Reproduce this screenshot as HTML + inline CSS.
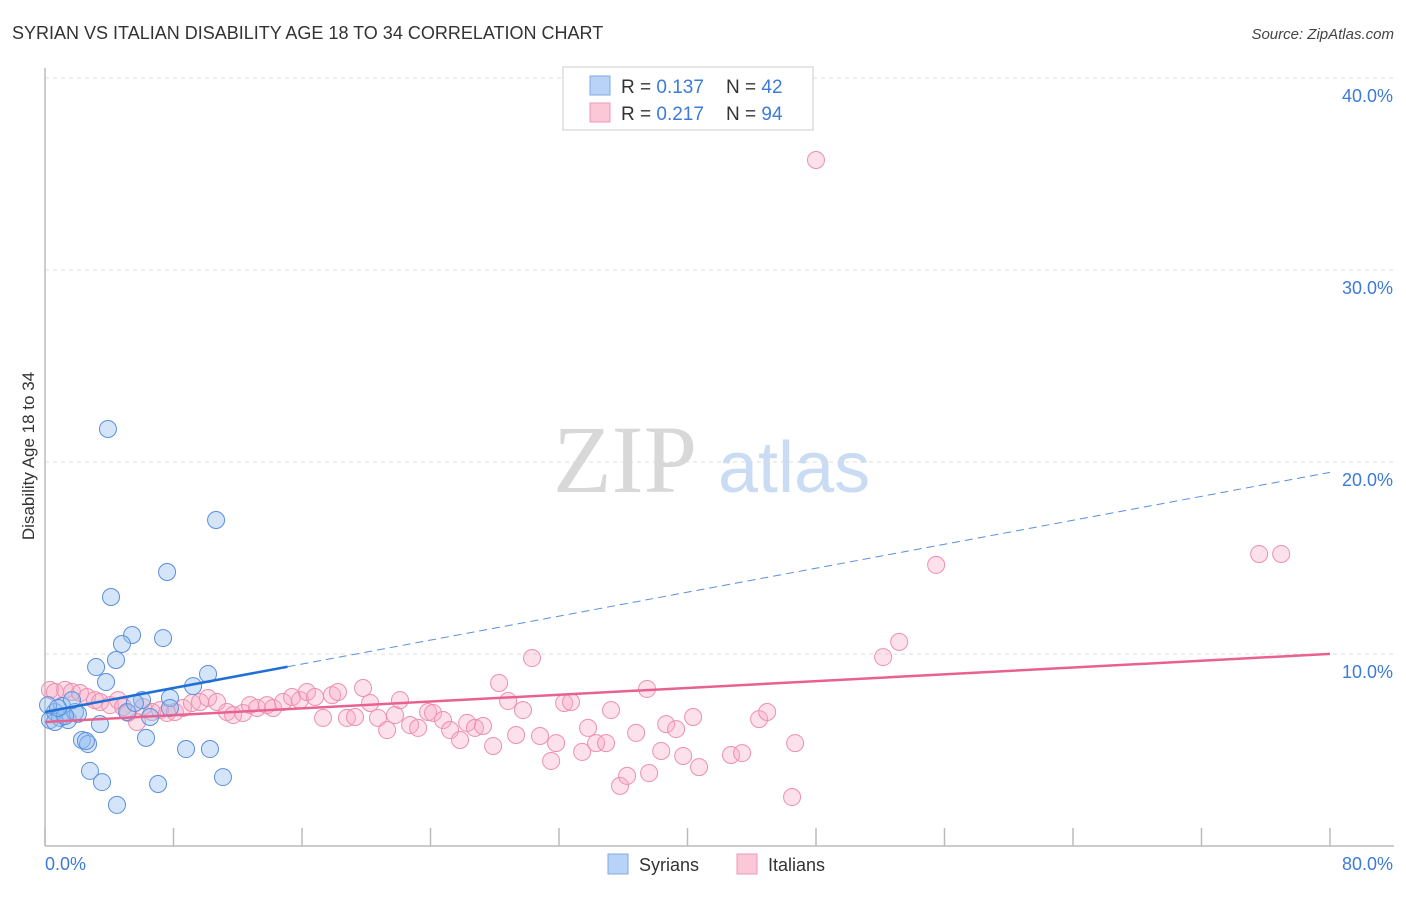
<!DOCTYPE html>
<html><head><meta charset="utf-8"><style>
body{margin:0;background:#fff;font-family:"Liberation Sans",sans-serif;}
svg text{font-family:"Liberation Sans",sans-serif;}
</style></head><body>
<svg id="chart" width="1406" height="892" viewBox="0 0 1406 892" xmlns="http://www.w3.org/2000/svg">
<text x="12" y="39" font-size="18" fill="#333">SYRIAN VS ITALIAN DISABILITY AGE 18 TO 34 CORRELATION CHART</text>
<text x="1394" y="39" font-size="15" fill="#444" font-style="italic" text-anchor="end">Source: ZipAtlas.com</text>
<g>
<text x="553" y="492" font-size="96" fill="#d8d8d8" font-family="Liberation Serif" style="font-family:'Liberation Serif',serif">ZIP</text>
<text x="718" y="492" font-size="72" fill="#c9dcf3">atlas</text>
</g>
<g id="grid"></g>
<line x1="45" y1="68" x2="45" y2="846" stroke="#bbb" stroke-width="1.5"/>
<line x1="45" y1="846" x2="1394" y2="846" stroke="#bbb" stroke-width="1.5"/>
<g id="ticks"></g>
<text transform="translate(34,456) rotate(-90)" font-size="17" fill="#333" text-anchor="middle">Disability Age 18 to 34</text>
<text x="45" y="870" font-size="18" fill="#3d7bd8">0.0%</text>
<text x="1393" y="870" font-size="18" fill="#3d7bd8" text-anchor="end">80.0%</text>
<g id="pink"></g>
<g id="blue"></g>
<g id="trends"></g>
<g>
<rect x="563" y="67" width="250" height="63" fill="#fff" stroke="#ccc"/>
<rect x="590" y="76" width="20" height="19" fill="#b8d3f5" stroke="#7fa9e3"/>
<rect x="590" y="103" width="20" height="19" fill="#fbc8d8" stroke="#ee9ab5"/>
<text x="621" y="93" font-size="19" fill="#333">R = <tspan fill="#3d7bd8">0.137</tspan></text>
<text x="726" y="93" font-size="19" fill="#333">N = <tspan fill="#3d7bd8">42</tspan></text>
<text x="621" y="120" font-size="19" fill="#333">R = <tspan fill="#3d7bd8">0.217</tspan></text>
<text x="726" y="120" font-size="19" fill="#333">N = <tspan fill="#3d7bd8">94</tspan></text>
</g>
<g>
<rect x="608" y="854" width="20" height="20" fill="#b8d3f5" stroke="#7fa9e3"/>
<text x="639" y="871" font-size="18" fill="#333">Syrians</text>
<rect x="737" y="854" width="20" height="20" fill="#fbc8d8" stroke="#ee9ab5"/>
<text x="768" y="871" font-size="18" fill="#333">Italians</text>
</g>
</svg>
<script>
const yTicks=[10,20,30,40];
const yTickLabels=["10.0%","20.0%","30.0%","40.0%"];
const xTicks=[0,8,16,24,32,40,48,56,64,72,80];
const syrX=[3.92,10.65,7.60,4.11,5.42,4.79,7.35,3.18,4.42,10.15,3.80,9.22,6.04,7.78,3.42,2.30,2.68,2.55,6.29,8.78,10.27,2.80,3.55,7.04,4.48,11.08,0.31,0.62,0.93,1.43,1.87,1.06,0.19,0.62,2.05,5.11,6.54,7.78,5.60,1.68,1.25,0.81];
const syrY=[21.72,16.98,14.27,12.97,10.99,10.52,10.83,9.32,9.69,8.96,8.54,8.33,7.60,7.71,6.35,5.52,5.31,5.47,5.63,5.05,5.05,3.91,3.33,3.23,2.14,3.59,6.56,6.98,6.67,6.56,6.98,7.29,7.34,6.46,6.88,6.98,6.72,7.19,7.45,7.60,6.77,7.19];
const itaX=[0.31,0.62,1.25,1.68,2.18,2.62,3.11,3.42,4.05,4.55,4.86,5.17,5.73,6.10,6.66,7.16,7.60,8.09,8.59,9.15,9.65,10.15,10.71,11.33,11.71,12.33,12.76,13.20,13.82,14.20,14.82,15.38,15.88,16.31,16.81,17.31,17.87,18.24,18.80,19.30,19.80,20.24,20.73,21.30,21.79,22.1,22.73,23.23,23.85,24.16,24.78,25.22,25.84,26.28,26.77,27.27,27.9,28.27,28.83,29.33,29.76,30.32,30.82,31.51,31.82,32.32,32.75,33.44,33.81,34.31,34.93,35.24,35.80,36.24,36.80,37.48,37.61,38.36,38.67,39.29,39.73,40.35,40.72,42.71,43.40,44.46,44.96,46.70,46.51,48.0,52.18,53.18,55.48,75.59,76.96];
const itaY=[8.13,8.02,8.13,8.02,7.97,7.76,7.60,7.50,7.34,7.60,7.24,6.93,6.46,7.24,6.98,7.08,6.93,6.98,7.19,7.45,7.50,7.71,7.50,6.98,6.82,6.93,7.34,7.19,7.34,7.19,7.50,7.76,7.60,8.02,7.76,6.67,7.86,8.02,6.67,6.72,8.23,7.45,6.67,6.04,6.82,7.6,6.3,6.15,6.98,6.93,6.56,6.04,5.52,6.41,6.15,6.25,5.21,8.49,7.55,5.78,7.08,9.79,5.73,4.43,5.36,7.45,7.50,4.90,6.15,5.36,5.36,7.08,3.13,3.65,5.89,8.18,3.80,4.95,6.35,6.09,4.69,6.72,4.11,4.74,4.84,6.61,6.98,5.36,2.55,35.73,9.84,10.63,14.64,15.21,15.21];
const syrTrend=[6.98,0.156];
const itaTrend=[6.46,0.0443];
const syrSolidEnd=15.1;

const NS="http://www.w3.org/2000/svg";
const sx=v=>45+v*(1285/80);
const sy=v=>846-v*19.2;
function mk(tag,attrs,parent){const e=document.createElementNS(NS,tag);for(const k in attrs)e.setAttribute(k,attrs[k]);parent.appendChild(e);return e;}
const grid=document.getElementById('grid');
yTicks.forEach((t,i)=>{
  const l=mk('line',{x1:45,x2:1394,y1:sy(t),y2:sy(t),stroke:'#ddd','stroke-dasharray':'4,4'},grid);
  
  
  const tx=mk('text',{x:1393,y:sy(t)+24,'font-size':18,fill:'#3d7bd8','text-anchor':'end'},grid);
  tx.textContent=yTickLabels[i];
  
  
});
const ticks=document.getElementById('ticks');
xTicks.forEach(t=>{
  const l=mk('line',{x1:sx(t),x2:sx(t),y1:828,y2:846,stroke:'#bbb','stroke-width':1.5},ticks);
  
  
});
const pg=document.getElementById('pink');
itaX.forEach((x,i)=>{
  const c=mk('circle',{cx:sx(x),cy:sy(itaY[i]),r:8.5,fill:'rgba(248,170,195,0.35)',stroke:'#ec8fb0','stroke-width':1},pg);
  
  
});
const bg=document.getElementById('blue');
syrX.forEach((x,i)=>{
  const c=mk('circle',{cx:sx(x),cy:sy(syrY[i]),r:8.5,fill:'rgba(150,190,240,0.4)',stroke:'#5a8fdc','stroke-width':1},bg);
  
  
});
const tg=document.getElementById('trends');
const f=(tr,x)=>tr[0]+tr[1]*x;
let l1=mk('line',{x1:sx(0),y1:sy(f(itaTrend,0)),x2:sx(80),y2:sy(f(itaTrend,80)),stroke:'#e8628f','stroke-width':2.5},tg);


let l2=mk('line',{x1:sx(syrSolidEnd),y1:sy(f(syrTrend,syrSolidEnd)),x2:sx(80),y2:sy(f(syrTrend,80)),stroke:'#5a8fdc','stroke-width':1,'stroke-dasharray':'8,5'},tg);


let l3=mk('line',{x1:sx(0),y1:sy(f(syrTrend,0)),x2:sx(syrSolidEnd),y2:sy(f(syrTrend,syrSolidEnd)),stroke:'#1f6fd6','stroke-width':2.5},tg);


</script>
</body></html>
